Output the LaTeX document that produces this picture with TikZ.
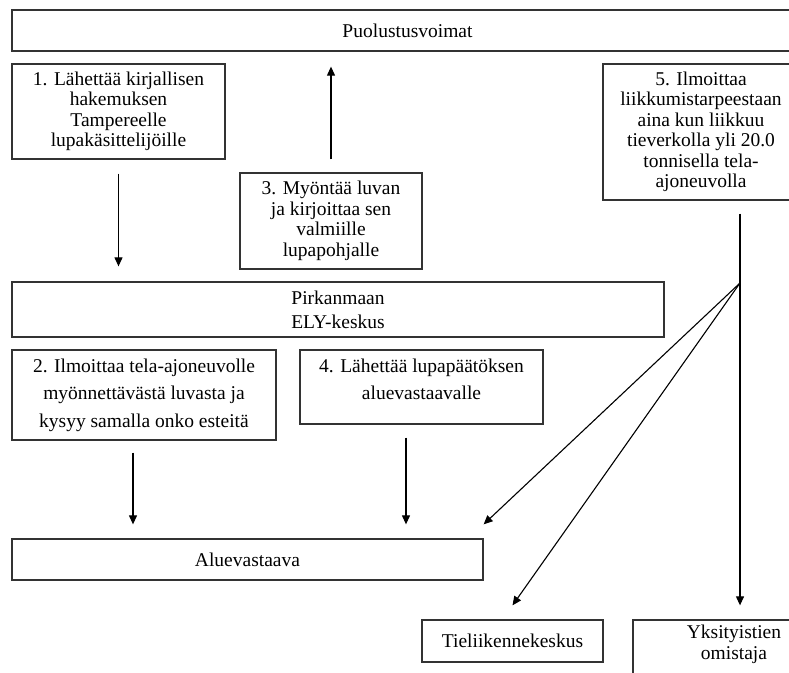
\documentclass[tikz,border=0pt]{standalone}
\usepackage{fontspec}
\setmainfont{Liberation Serif}
\usepackage{tikz}
\usetikzlibrary{arrows.meta}

\tikzset{
  box/.style={draw=black!80, line width=1.3pt, align=center, inner sep=3pt,
    font=\fontsize{19.5}{20.5}\selectfont},
  arr/.style={line width=1.1pt, -{Triangle[length=9pt,width=8pt]}}
}

\begin{document}
\begin{tikzpicture}[x=1pt,y=-1pt]
  \useasboundingbox (0,0) rectangle (789,672);
  \clip (0,0) rectangle (789,672);

  % Draw the boxes
  \node[box, minimum width=791, minimum height=41] (puol) at (407.5,30.5) {Puolustusvoimat};
  \node[box, minimum width=213, minimum height=95] (hak) at (118.5,111.5)
    {1. Lähettää kirjallisen\\hakemuksen\\Tampereelle\\lupakäsittelijöille};
  \node[box, minimum width=182, minimum height=96] (myon) at (331,221)
    {3. Myöntää luvan\\ja kirjoittaa sen\\valmiille\\lupapohjalle};
  \node[box, minimum width=196, minimum height=136] (ilm) at (701,132)
    {5. Ilmoittaa\\liikkumistarpeestaan\\aina kun liikkuu\\tieverkolla yli 20.0\\tonnisella tela-\\ajoneuvolla};
  \node[box, minimum width=652, minimum height=55, font=\fontsize{19.5}{24}\selectfont] (ely) at (338,309.5)
    {Pirkanmaan\\ELY-keskus};
  \node[box, minimum width=264, minimum height=90, font=\fontsize{19.5}{27.5}\selectfont] (tela) at (144,395)
    {2. Ilmoittaa tela-ajoneuvolle\\myönnettävästä luvasta ja\\kysyy samalla onko esteitä};
  \node[box, minimum width=243, minimum height=74, text height=46.5pt, text depth=21.5pt,
    font=\fontsize{19.5}{27.5}\selectfont] (lah) at (421.5,387)
    {4. Lähettää lupapäätöksen\\aluevastaavalle};
  \node[box, minimum width=471, minimum height=41] (aluev) at (247.5,559.5) {Aluevastaava};
  \node[box, minimum width=181, minimum height=42] (tiel) at (512.5,641) {Tieliikennekeskus};
  \node[box, minimum width=202, minimum height=80, text height=36pt, text depth=38pt,
    font=\fontsize{19.5}{21}\selectfont] (yksit) at (734,660)
    {Yksityistien\\omistaja};

  % Arrows between the boxes
  \draw[arr, shorten <=14pt, shorten >=15pt] (hak.south) -- (hak.south |- ely.north);
  \draw[arr, shorten <=13pt, shorten >=15pt] (myon.north) -- (myon.north |- puol.south);
  \coordinate (t2) at ([xshift=-11pt]tela.south);
  \draw[arr, shorten <=12pt, shorten >=14pt] (t2) -- (t2 |- aluev.north);
  \coordinate (t4) at ([xshift=-15.5pt]lah.south);
  \draw[arr, shorten <=13pt, shorten >=14pt] (t4) -- (t4 |- aluev.north);

  % Split below box 5
  \coordinate (split) at (740,283);
  \draw[arr, shorten <=13pt, shorten >=14pt] (split |- ilm.south) -- (split |- yksit.north);
  \draw[arr] (split) -- ([yshift=14pt]aluev.north east);
  \draw[arr] (split) -- ([yshift=14pt]tiel.north);
\end{tikzpicture}
\end{document}
